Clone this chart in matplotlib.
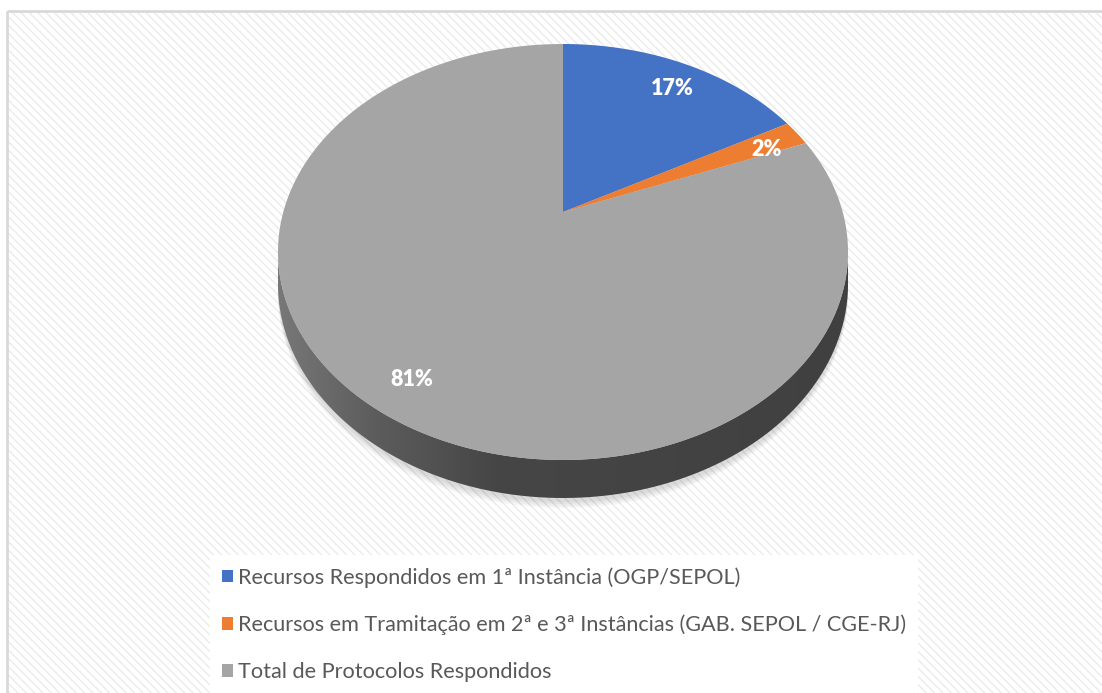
import numpy as np
import matplotlib.pyplot as plt
from matplotlib.patches import Polygon, Rectangle, Patch
from matplotlib.colors import LinearSegmentedColormap

labels = ['Recursos Respondidos em 1ª Instância (OGP/SEPOL)',
          'Recursos em Tramitação em 2ª e 3ª Instâncias (GAB. SEPOL / CGE-RJ)',
          'Total de Protocolos Respondidos']
values = [17, 2, 81]
colors = ['#4472C4', '#ED7D31', '#A5A5A5']

plt.rcParams['font.family'] = ['Lato', 'DejaVu Sans']

# tilted disc seen in perspective, everything in pixel units
cx, cy = 563, 212
rx, ry = 279.7, 200.3
k = 0.1923
depth = 30.7


def project(phi, r=1.0, z=0.0):
    # phi: clockwise from 12 o'clock, radians
    x = r * np.sin(phi)
    y = -r * np.cos(phi)
    w = 1 - k * y
    return cx + rx * x / w, cy + (ry * y + z) / w


fig = plt.figure(figsize=(11.02, 6.93), dpi=100)
ax = fig.add_axes([0, 0, 1, 1])

# hatched chart area + border
ax.add_patch(Rectangle((7, 11), 1100, 690, facecolor='white', edgecolor='#EBEBEB',
                       hatch='\\\\\\\\', lw=0, zorder=0))
ax.add_patch(Rectangle((7, 11), 1100, 690, facecolor='none', edgecolor='#D9D9D9',
                       lw=2, zorder=1))

# soft shadow under the disc
ring = np.linspace(0, 2 * np.pi, 300)
for off in [10, 8, 6, 4]:
    sx, sy = project(ring, z=depth)
    ax.add_patch(Polygon(np.column_stack([sx, sy + off]), closed=True,
                         facecolor='#000000', alpha=0.035, lw=0, zorder=2))

# side wall (front half only)
phi_r = np.arccos(-k)
front = np.linspace(phi_r, 2 * np.pi - phi_r, 200)
tx, ty = project(front)
bx, by = project(front[::-1], z=depth)
wall = Polygon(np.column_stack([np.r_[tx, bx], np.r_[ty, by]]), closed=True,
               facecolor='none', lw=0, zorder=3)
ax.add_patch(wall)
wall_cmap = LinearSegmentedColormap.from_list(
    'wall', [(0, '#7a7a7a'), (0.18, '#5c5c5c'), (0.38, '#464646'), (1, '#404040')])
grad = np.linspace(0, 1, 256).reshape(1, -1)
im = ax.imshow(grad, cmap=wall_cmap, extent=(270, 860, 520, 250), aspect='auto',
               zorder=3)
im.set_clip_path(wall)

# top face slices
fracs = np.array(values) / np.sum(values)
edges = np.r_[0, np.cumsum(fracs)] * 2 * np.pi
for a0, a1, c in zip(edges[:-1], edges[1:], colors):
    arc = np.linspace(a0, a1, max(int((a1 - a0) * 80), 4))
    px, py = project(arc)
    ax.add_patch(Polygon(np.column_stack([np.r_[cx, px], np.r_[cy, py]]),
                         closed=True, facecolor=c, edgecolor='none', zorder=4))

# data labels
for a0, a1, f in zip(edges[:-1], edges[1:], fracs):
    lx, ly = project((a0 + a1) / 2, r=0.85)
    ax.text(lx + 3, ly + 5, f'{f:.0%}', color='white', fontsize=15.5, fontweight='heavy',
            ha='center', va='center', zorder=5)

handles = [Patch(facecolor=c, edgecolor='none') for c in colors]
leg = ax.legend(handles, labels, loc='upper left',
                bbox_to_anchor=(210 / 1102, 1 - 555 / 693),
                bbox_transform=fig.transFigure,
                frameon=True, fancybox=False, framealpha=1, edgecolor='none',
                facecolor='white', fontsize=15.6, labelcolor='#595959',
                handlelength=0.5, handleheight=0.5, handletextpad=0.25,
                labelspacing=1.25, borderpad=0.55, borderaxespad=0)
leg.set_zorder(6)

ax.set_xlim(0, 1102)
ax.set_ylim(693, 0)
ax.axis('off')
fig.savefig('out.png', dpi=100)
